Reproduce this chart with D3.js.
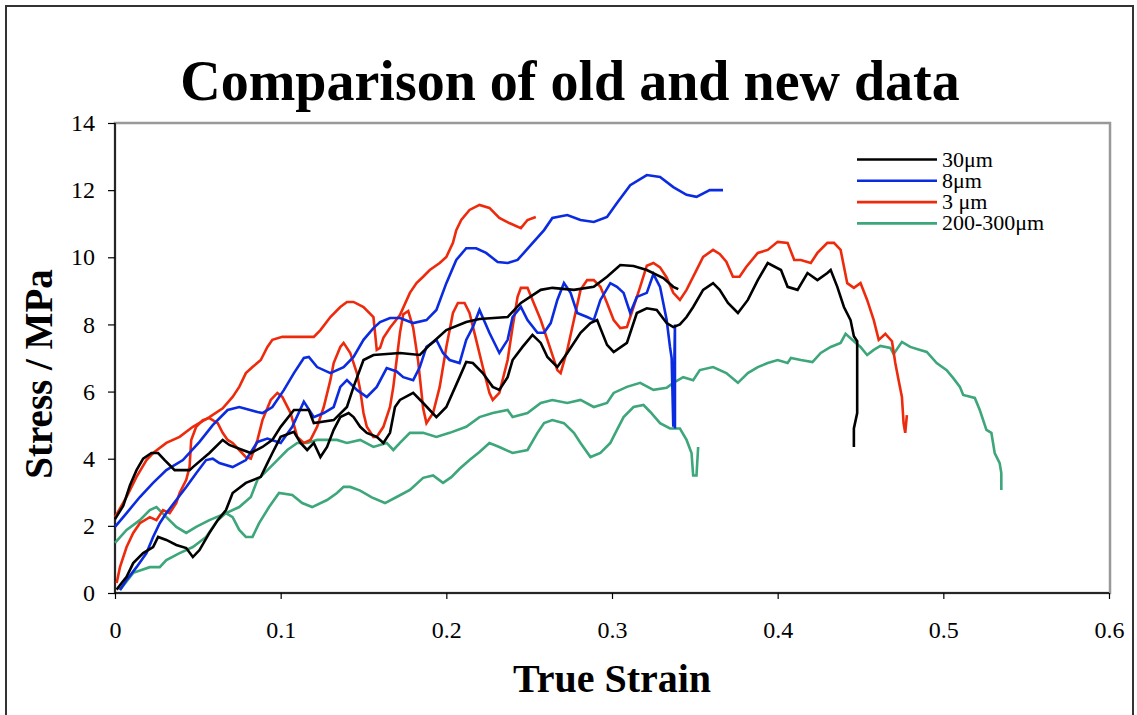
<!DOCTYPE html>
<html>
<head>
<meta charset="utf-8">
<script src="https://cdn.jsdelivr.net/npm/d3@7"></script>
<style>
  html, body { margin: 0; padding: 0; background: #fff; }
  svg { display: block; }
  text { font-family: "Liberation Serif", "Times New Roman", serif; fill: #000; }
</style>
</head>
<body>
<svg id="chart" width="1137" height="715"></svg>
<script>
// ---- tick values ----
const xTicks = [0, 0.1, 0.2, 0.3, 0.4, 0.5, 0.6];
const yTicks = [0, 2, 4, 6, 8, 10, 12, 14];

// ---- legend entries ----
const legendLabels = ["30\u03bcm", "8\u03bcm", "3 \u03bcm", "200-300\u03bcm"];
const legendColors = ["#000000", "#0b2be0", "#ee2a0c", "#3da67a"];

// ---- 30 µm, first test ----
const strain30a = [0,0.005,0.009,0.013,0.017,0.022,0.026,0.030,0.036,0.045,0.047,0.057,0.065,0.069,0.077,0.082,0.089,0.095,0.10,0.108,0.117,0.12,0.132,0.14,0.144,0.15,0.156,0.172,0.184,0.19,0.2,0.212,0.22,0.237,0.245,0.257,0.264,0.277,0.289,0.297,0.305,0.313,0.321,0.331,0.337,0.34];
const stress30a = [2.2,2.6,3.2,3.66,4.0,4.17,4.17,3.96,3.66,3.66,3.75,4.17,4.56,4.41,4.26,4.17,4.35,4.56,4.95,5.45,5.45,5.06,5.15,5.54,6.14,6.94,7.09,7.15,7.09,7.39,7.83,8.07,8.16,8.22,8.64,9.03,9.09,9.03,9.12,9.42,9.77,9.74,9.62,9.38,9.12,9.05];

// ---- 30 µm, second test ----
const strain30b = [0.001,0.004,0.007,0.011,0.017,0.023,0.026,0.031,0.037,0.043,0.047,0.051,0.057,0.062,0.067,0.071,0.079,0.088,0.092,0.095,0.1,0.108,0.112,0.116,0.12,0.124,0.128,0.132,0.136,0.141,0.144,0.148,0.152,0.158,0.162,0.166,0.169,0.172,0.18,0.186,0.194,0.2,0.208,0.212,0.216,0.222,0.228,0.232,0.237,0.24,0.246,0.252,0.257,0.261,0.267,0.273,0.281,0.287,0.291,0.297,0.301,0.309,0.315,0.321,0.327,0.333,0.337,0.341,0.345,0.349,0.355,0.361,0.365,0.37,0.376,0.382,0.388,0.394,0.402,0.406,0.412,0.418,0.424,0.43,0.432,0.436,0.44,0.444,0.446,0.448,0.448,0.446,0.446];
const stress30b = [0.1,0.3,0.48,0.89,1.19,1.37,1.67,1.58,1.43,1.34,1.07,1.28,1.79,2.17,2.47,2.98,3.28,3.46,3.87,4.17,4.65,4.8,4.47,4.26,4.47,4.05,4.35,4.86,5.24,5.36,5.24,4.95,4.77,4.65,4.47,4.77,5.54,5.75,5.96,5.66,5.24,5.54,6.43,6.88,6.85,6.55,6.14,6.05,6.43,6.94,7.33,7.69,7.45,7.03,6.73,7.15,7.75,8.04,8.13,7.39,7.18,7.45,8.34,8.48,8.43,8.04,7.92,8.0,8.22,8.52,9.03,9.23,9.03,8.64,8.34,8.73,9.32,9.83,9.62,9.12,9.03,9.53,9.32,9.53,9.62,9.12,8.52,8.13,7.65,7.5,5.36,4.9,4.35];

// ---- 8 µm, first test ----
const strain8a = [0,0.007,0.015,0.023,0.031,0.041,0.051,0.059,0.068,0.075,0.086,0.089,0.095,0.102,0.108,0.114,0.117,0.122,0.13,0.138,0.144,0.15,0.156,0.16,0.166,0.172,0.18,0.188,0.194,0.2,0.206,0.212,0.218,0.224,0.231,0.237,0.243,0.25,0.259,0.264,0.273,0.281,0.289,0.297,0.303,0.311,0.321,0.329,0.337,0.345,0.351,0.359,0.367];
const stress8a = [1.97,2.38,2.86,3.28,3.66,3.96,4.5,5.0,5.45,5.54,5.39,5.36,5.54,6.05,6.55,7.0,7.03,6.73,6.55,6.73,7.03,7.54,7.89,8.07,8.19,8.19,8.04,8.13,8.43,9.23,9.92,10.27,10.27,10.13,9.86,9.83,9.92,10.31,10.81,11.17,11.26,11.11,11.05,11.2,11.62,12.15,12.45,12.39,12.09,11.86,11.8,12.0,12.0];

// ---- 8 µm, second test ----
const strain8b = [0.003,0.007,0.013,0.019,0.023,0.027,0.031,0.037,0.043,0.049,0.055,0.059,0.063,0.071,0.079,0.086,0.092,0.1,0.107,0.114,0.12,0.126,0.132,0.136,0.14,0.146,0.152,0.158,0.164,0.17,0.174,0.18,0.184,0.188,0.194,0.198,0.202,0.208,0.212,0.216,0.22,0.226,0.232,0.237,0.24,0.245,0.249,0.255,0.259,0.263,0.267,0.271,0.275,0.279,0.285,0.289,0.293,0.299,0.303,0.307,0.311,0.315,0.321,0.325,0.329,0.333,0.335,0.336,0.337,0.338,0.338];
const stress8b = [0.09,0.39,0.77,1.19,1.67,2.08,2.38,2.77,3.16,3.57,3.96,4.0,3.87,3.75,3.96,4.5,4.6,4.47,4.95,5.7,5.24,5.36,5.54,6.14,6.34,6.05,5.84,6.14,6.7,6.6,6.43,6.34,6.73,7.33,7.54,7.15,6.94,6.85,7.54,7.92,8.43,7.75,7.15,7.54,8.22,8.52,8.13,7.75,7.75,8.04,8.73,9.23,8.94,8.34,8.22,8.13,8.73,9.23,9.12,8.94,8.34,8.82,8.94,9.5,9.12,8.13,7.33,7.0,4.95,8.0,4.9];

// ---- 3 µm, first test ----
const strain3a = [0,0.007,0.013,0.019,0.023,0.031,0.039,0.047,0.057,0.065,0.071,0.075,0.079,0.083,0.088,0.092,0.095,0.101,0.112,0.12,0.124,0.13,0.136,0.14,0.144,0.15,0.156,0.158,0.16,0.162,0.166,0.172,0.178,0.182,0.186,0.19,0.196,0.2,0.204,0.206,0.209,0.214,0.22,0.226,0.232,0.238,0.245,0.249,0.254];
const stress3a = [2.26,2.86,3.46,3.96,4.17,4.47,4.65,4.95,5.24,5.5,5.84,6.14,6.55,6.73,6.94,7.33,7.54,7.63,7.63,7.63,7.83,8.22,8.52,8.67,8.67,8.52,8.22,7.24,7.3,7.6,7.9,8.28,8.94,9.23,9.42,9.62,9.83,10.01,10.43,10.81,11.11,11.41,11.56,11.47,11.17,11.02,10.87,11.11,11.2];

// ---- 3 µm, second test ----
const strain3b = [0.001,0.003,0.007,0.011,0.015,0.021,0.025,0.029,0.033,0.037,0.039,0.043,0.045,0.046,0.049,0.053,0.057,0.062,0.065,0.068,0.071,0.075,0.079,0.082,0.086,0.089,0.094,0.098,0.101,0.106,0.11,0.114,0.118,0.122,0.126,0.13,0.132,0.136,0.138,0.142,0.146,0.148,0.15,0.152,0.156,0.158,0.162,0.166,0.168,0.17,0.172,0.174,0.177,0.18,0.183,0.186,0.188,0.192,0.196,0.2,0.204,0.207,0.211,0.214,0.218,0.222,0.226,0.228,0.232,0.237,0.24,0.243,0.245,0.249,0.252,0.257,0.263,0.267,0.269,0.273,0.277,0.281,0.285,0.289,0.293,0.297,0.301,0.305,0.309,0.313,0.317,0.321,0.325,0.329,0.333,0.337,0.341,0.345,0.351,0.355,0.361,0.365,0.369,0.373,0.377,0.381,0.388,0.394,0.4,0.406,0.41,0.414,0.42,0.424,0.43,0.434,0.438,0.442,0.446,0.45,0.454,0.458,0.461,0.465,0.469,0.471,0.473,0.475,0.476,0.477,0.478];
const stress3b = [0.3,0.77,1.37,1.79,2.08,2.26,2.17,2.47,2.38,2.68,2.98,3.37,3.75,4.56,4.95,5.15,5.21,5.06,4.77,4.56,4.47,4.26,4.05,4.0,4.56,5.15,5.75,5.96,5.84,5.36,4.65,4.47,4.56,4.95,5.54,6.34,6.85,7.33,7.45,7.15,6.55,6.05,5.36,4.95,4.65,4.65,4.95,5.54,6.14,6.94,7.75,8.3,8.4,7.9,6.9,5.5,5.06,5.36,6.14,7.33,8.34,8.64,8.64,8.34,7.54,6.73,5.96,5.75,5.96,6.94,7.92,8.82,9.09,9.09,8.73,8.13,7.24,6.64,6.55,7.24,8.13,9.03,9.32,9.32,9.12,8.64,8.13,7.89,7.92,8.52,9.12,9.75,9.83,9.7,9.4,8.94,8.73,9.03,9.62,10.01,10.22,10.1,9.87,9.42,9.42,9.71,10.13,10.22,10.46,10.43,9.92,9.92,9.83,10.13,10.43,10.43,10.22,9.23,9.09,9.23,8.73,8.13,7.54,7.72,7.5,6.85,6.34,5.84,5.06,4.77,5.3];

// ---- 200-300 µm, first test ----
const strain200a = [0,0.007,0.015,0.021,0.025,0.031,0.037,0.043,0.049,0.057,0.067,0.075,0.082,0.086,0.092,0.098,0.104,0.11,0.116,0.122,0.128,0.134,0.14,0.148,0.156,0.164,0.168,0.172,0.178,0.186,0.194,0.202,0.212,0.22,0.228,0.237,0.24,0.249,0.257,0.264,0.273,0.281,0.289,0.297,0.301,0.309,0.317,0.325,0.333,0.337,0.343,0.349,0.353,0.361,0.369,0.376,0.382,0.388,0.394,0.4,0.406,0.408,0.414,0.421,0.426,0.432,0.438,0.441,0.446,0.45,0.454,0.458,0.462,0.468,0.47,0.475,0.48,0.486,0.49,0.496,0.502,0.506,0.51,0.512,0.519,0.522,0.526,0.529,0.531,0.534,0.535,0.535];
const stress200a = [1.49,1.88,2.17,2.47,2.56,2.26,1.97,1.79,1.97,2.17,2.38,2.56,2.86,3.37,3.66,3.96,4.26,4.47,4.47,4.56,4.56,4.56,4.47,4.56,4.35,4.47,4.26,4.47,4.77,4.77,4.65,4.77,4.95,5.24,5.36,5.45,5.24,5.36,5.66,5.75,5.66,5.75,5.54,5.66,5.96,6.14,6.26,6.05,6.11,6.26,6.43,6.34,6.64,6.73,6.55,6.26,6.55,6.73,6.85,6.94,6.85,7.0,6.94,6.88,7.15,7.33,7.45,7.72,7.5,7.33,7.09,7.24,7.36,7.3,7.12,7.48,7.33,7.24,7.18,6.85,6.64,6.4,6.14,5.9,5.81,5.45,4.86,4.77,4.17,3.87,3.57,3.07];

// ---- 200-300 µm, second test ----
const strain200b = [0.003,0.011,0.021,0.027,0.031,0.039,0.047,0.055,0.062,0.067,0.071,0.075,0.079,0.083,0.087,0.093,0.099,0.107,0.113,0.119,0.128,0.134,0.138,0.142,0.148,0.155,0.163,0.17,0.178,0.186,0.192,0.198,0.203,0.208,0.214,0.22,0.226,0.232,0.24,0.249,0.255,0.259,0.264,0.271,0.277,0.281,0.287,0.293,0.299,0.303,0.307,0.313,0.319,0.323,0.329,0.335,0.341,0.345,0.348,0.349,0.351,0.352];
const stress200b = [0.09,0.6,0.77,0.77,0.98,1.19,1.37,1.67,2.17,2.38,2.26,1.88,1.67,1.67,2.08,2.56,2.98,2.92,2.68,2.56,2.77,2.98,3.16,3.16,3.05,2.85,2.68,2.86,3.07,3.43,3.5,3.28,3.45,3.7,3.96,4.2,4.47,4.35,4.17,4.26,4.77,5.06,5.15,5.06,4.77,4.47,4.05,4.17,4.47,4.86,5.24,5.54,5.6,5.4,5.06,4.9,4.9,4.56,4.17,3.5,3.5,4.35];

const seriesList = [
  { strain: strain200a, stress: stress200a, color: legendColors[3] },
  { strain: strain200b, stress: stress200b, color: legendColors[3] },
  { strain: strain3a,   stress: stress3a,   color: legendColors[2] },
  { strain: strain3b,   stress: stress3b,   color: legendColors[2] },
  { strain: strain8a,   stress: stress8a,   color: legendColors[1] },
  { strain: strain8b,   stress: stress8b,   color: legendColors[1] },
  { strain: strain30a,  stress: stress30a,  color: legendColors[0] },
  { strain: strain30b,  stress: stress30b,  color: legendColors[0] }
];

const serif = "'Liberation Serif', 'Times New Roman', serif";
const svg = d3.select("#chart");

// outer chart frame
svg.append("rect")
  .attr("x", 6).attr("y", 6).attr("width", 1127).attr("height", 720)
  .attr("fill", "#fff").attr("stroke", "#333").attr("stroke-width", 2);

const plot = { left: 115, top: 123, right: 1109, bottom: 593 };

const x = d3.scaleLinear().domain([0, 0.6]).range([plot.left, plot.right]);
const y = d3.scaleLinear().domain([0, 14]).range([plot.bottom, plot.top]);

// plot area border
svg.append("rect")
  .attr("x", plot.left).attr("y", plot.top)
  .attr("width", plot.right - plot.left + 1).attr("height", plot.bottom - plot.top)
  .attr("fill", "#fff").attr("stroke", "#999").attr("stroke-width", 2.5);

// title
svg.append("text")
  .attr("x", 570).attr("y", 100)
  .attr("text-anchor", "middle")
  .style("font-family", serif)
  .style("font-size", "56px").style("font-weight", "bold")
  .text("Comparison of old and new data");

// axes
const yAxis = d3.axisLeft(y).tickValues(yTicks).tickSize(7).tickPadding(13)
  .tickFormat(d3.format("d"));
const xAxis = d3.axisBottom(x).tickValues(xTicks).tickSize(6).tickPadding(22)
  .tickFormat(d => d === 0 ? "0" : d3.format(".1f")(d));

const gy = svg.append("g").attr("transform", `translate(${plot.left},0)`).call(yAxis);
const gx = svg.append("g").attr("transform", `translate(0,${plot.bottom})`).call(xAxis);
[gx, gy].forEach(g => {
  g.attr("font-family", serif).attr("font-size", 24);
  g.select(".domain").attr("stroke", "#000").attr("stroke-width", 1.5);
  g.selectAll(".tick line").attr("stroke", "#000").attr("stroke-width", 1.2);
  g.selectAll(".tick text")
    .style("font-family", serif)
    .style("font-size", "24px").attr("fill", "#000");
});
gx.select(".domain").attr("d", `M${plot.left},0H${plot.right}`);
gy.select(".domain").attr("d", `M0,${plot.bottom}V${plot.top}`);

// axis titles
svg.append("text")
  .attr("x", 612).attr("y", 692)
  .attr("text-anchor", "middle")
  .style("font-family", serif)
  .style("font-size", "40px").style("font-weight", "bold")
  .text("True Strain");

svg.append("text")
  .attr("transform", "translate(52,374) rotate(-90)")
  .attr("text-anchor", "middle")
  .style("font-family", serif)
  .style("font-size", "39px").style("font-weight", "bold")
  .text("Stress / MPa");

// curves
const line = d3.line()
  .x(d => x(d[0]))
  .y(d => y(d[1]));

const curves = svg.append("g");
seriesList.forEach(s => {
  const pts = s.strain.map((v, i) => [v, s.stress[i]]);
  curves.append("path")
    .attr("d", line(pts))
    .attr("fill", "none")
    .attr("stroke", s.color)
    .attr("stroke-width", 2.6)
    .attr("stroke-linejoin", "miter")
    .attr("stroke-linecap", "butt");
});

// legend
const legend = svg.append("g");
legendLabels.forEach((label, i) => {
  const ly = 159.5 + i * 21.3;
  legend.append("line")
    .attr("x1", 857).attr("x2", 937)
    .attr("y1", ly).attr("y2", ly)
    .attr("stroke", legendColors[i]).attr("stroke-width", 2.6);
  legend.append("text")
    .attr("x", 942).attr("y", ly + 7)
    .style("font-family", serif)
    .style("font-size", "22px")
    .text(label);
});
</script>
</body>
</html>
